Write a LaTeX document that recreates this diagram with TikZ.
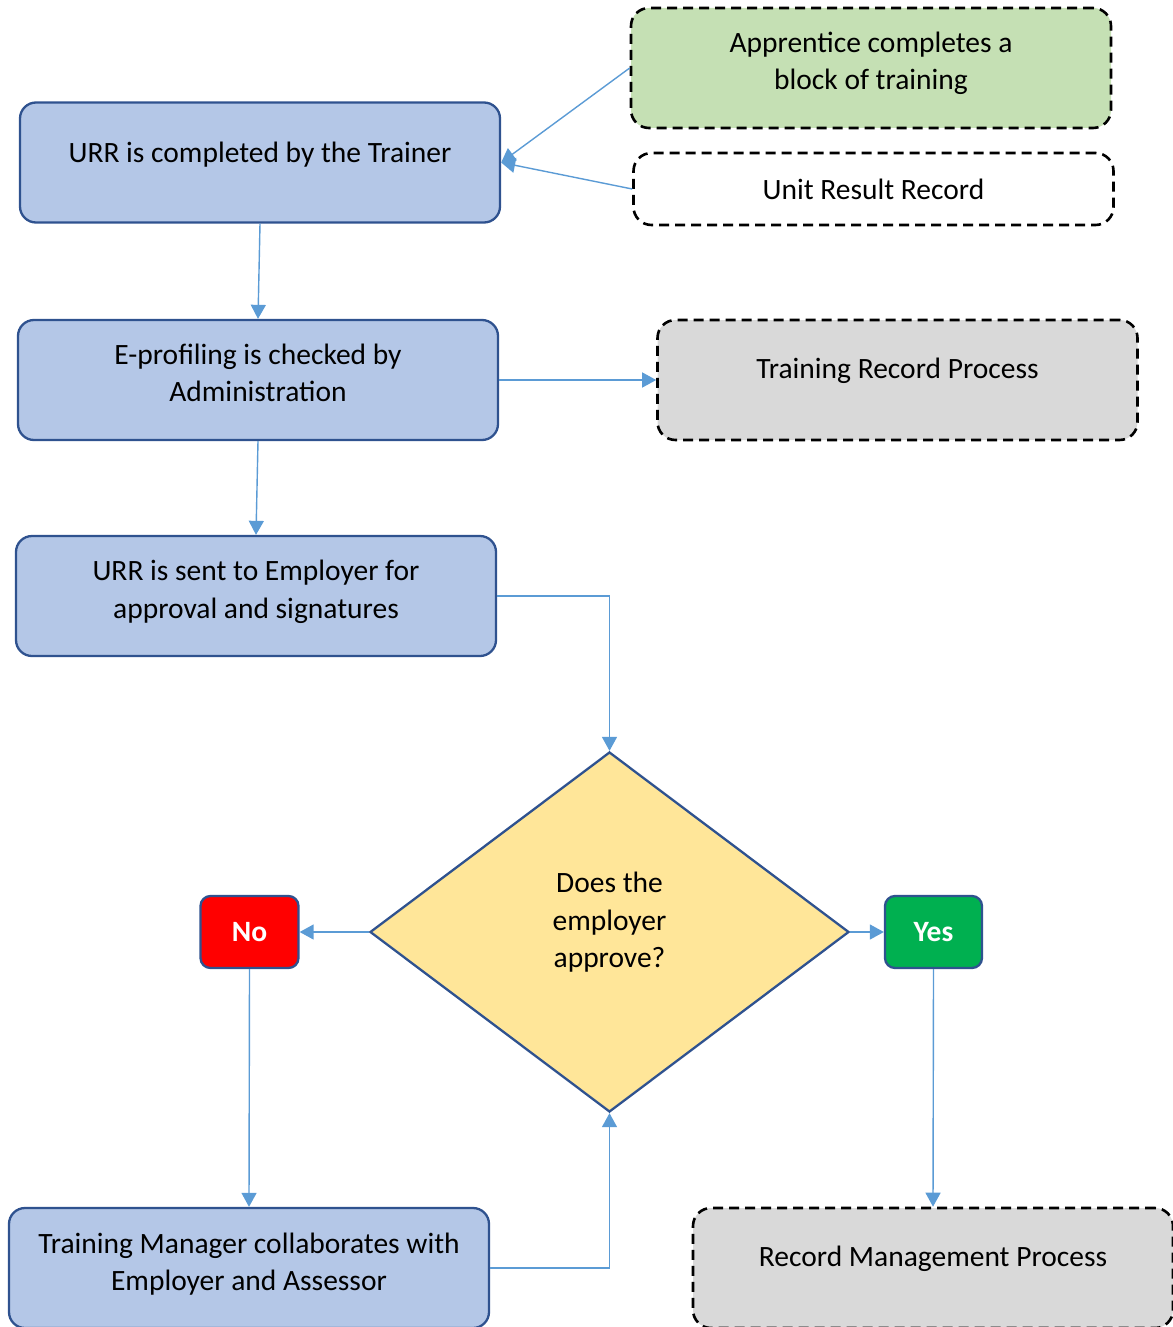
\documentclass[tikz,border=0pt]{standalone}
\usepackage{fontspec}
\setmainfont{Carlito}
\usetikzlibrary{arrows.meta,shapes.geometric}

\definecolor{procblue}{HTML}{B4C7E7}
\definecolor{procedge}{HTML}{2F528F}
\definecolor{linkblue}{HTML}{5B9BD5}
\definecolor{startgreen}{HTML}{C5E0B4}
\definecolor{extgrey}{HTML}{D9D9D9}
\definecolor{askyellow}{HTML}{FFE699}
\definecolor{yesgreen}{HTML}{00B050}

\begin{document}
\begin{tikzpicture}
  [x=1pt,y=-1pt,
   every node/.style={font=\fontsize{29.5}{37.5}\selectfont,align=center,inner sep=0pt},
   proc/.style={rectangle,rounded corners=16pt,draw=procedge,line width=2.3pt,fill=procblue,
     minimum width=480pt,minimum height=120pt},
   ext/.style={rectangle,rounded corners=18pt,draw=black,line width=2.6pt,
     dash pattern=on 10pt off 6pt,minimum width=480pt,minimum height=120pt},
   answer/.style={rectangle,rounded corners=10pt,draw=procedge,line width=2.3pt,text=white,
     font=\fontsize{29.5}{37.5}\selectfont\bfseries,minimum width=98pt,minimum height=72pt},
   link/.style={draw=linkblue,line width=1.4pt,-{Triangle[length=14pt,width=15pt]}}]
  \useasboundingbox (0,0) rectangle (1172,1327);
  \node[ext,fill=startgreen,text depth=14pt] (appr) at (871,68) {Apprentice completes a\\block of training};
  \node[ext,minimum height=72pt] (unit) at (873.5,189) {Unit Result Record};
  \node[proc,text depth=21pt] (urr) at (260,162.5) {URR is completed by the Trainer};
  \node[proc,text depth=14pt] (eprof) at (258,380) {E-profiling is checked by\\Administration};
  \node[ext,fill=extgrey,text depth=23pt] (trp) at (897.5,380) {Training Record Process};
  \node[proc,text depth=13pt] (sent) at (256,596) {URR is sent to Employer for\\approval and signatures};
  \node[diamond,draw=procedge,line width=2.3pt,fill=askyellow,minimum width=479pt,
    minimum height=360pt,text depth=24pt] (ask) at (609.5,932) {Does the\\employer\\approve?};
  \node[answer,fill=red] (no) at (249.5,932) {No};
  \node[answer,fill=yesgreen,minimum width=97pt] (yes) at (933.5,932) {Yes};
  \node[proc,text depth=13pt] (tm) at (249,1268) {Training Manager collaborates with\\Employer and Assessor};
  \node[ext,fill=extgrey,text depth=23pt] (rmp) at (933,1268) {Record Management Process};
  \foreach \from/\to in {appr.west/urr.east,unit.west/urr.east,urr.south/eprof.north,
    eprof.east/trp.west,eprof.south/sent.north,ask.west/no.east,ask.east/yes.west,
    no.south/tm.north,yes.south/rmp.north}
    \draw[link] (\from) -- (\to);
  \draw[link] (sent.east) -| (ask.north);
  \draw[link] (tm.east) -| (ask.south);
\end{tikzpicture}
\end{document}
